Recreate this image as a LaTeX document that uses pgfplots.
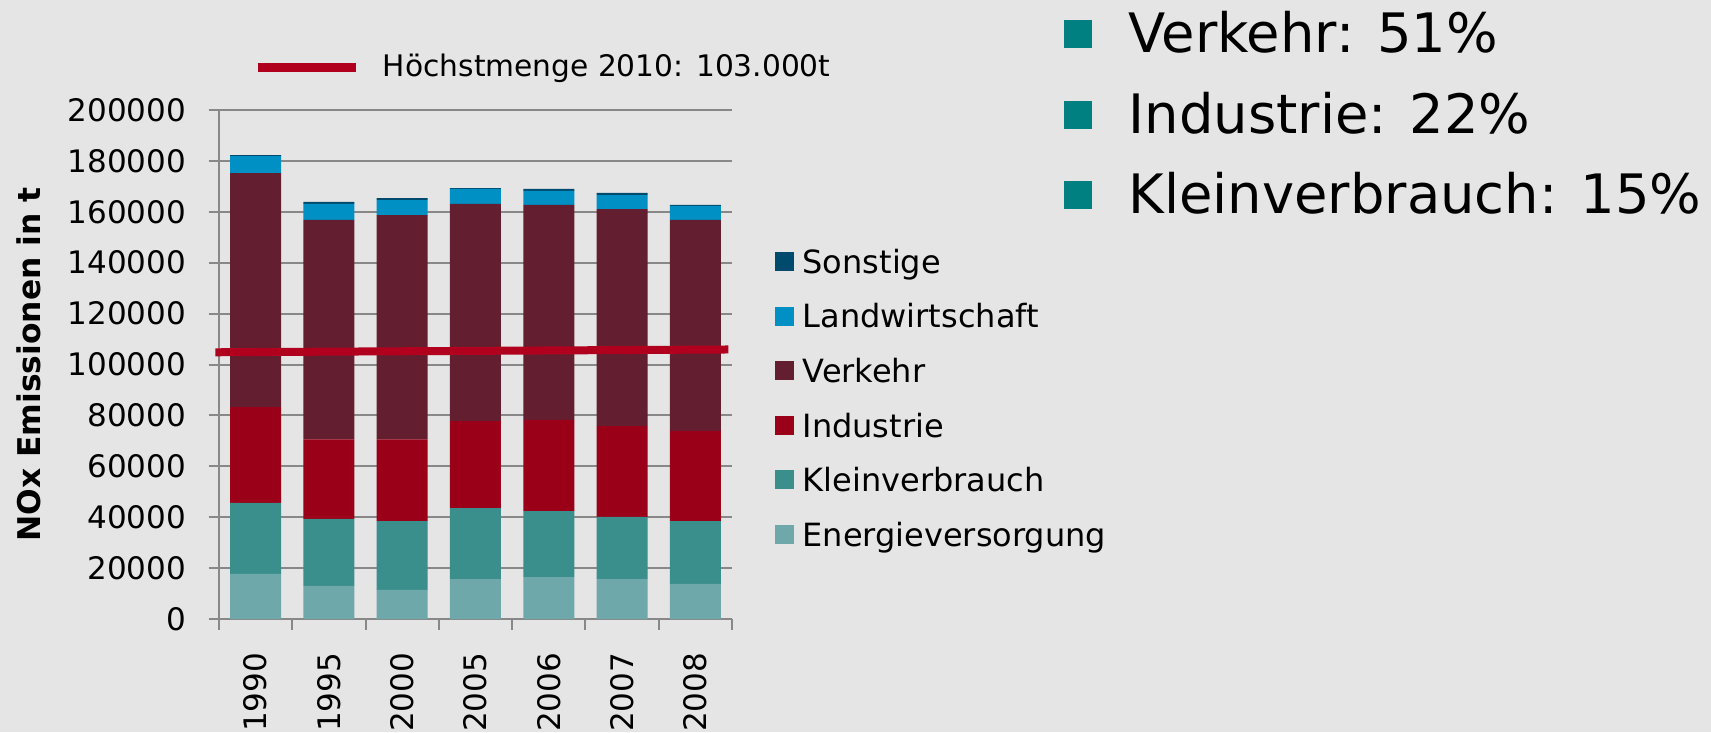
\documentclass[border=0pt]{standalone}
\usepackage{pgfplots}
\pgfplotsset{compat=1.18}
\usepackage{pgfplotstable}
\usepackage{fontspec}
\setmainfont{DejaVu Sans}

\definecolor{bgGray}{HTML}{E5E5E5}
\definecolor{gridGray}{HTML}{888888}
\definecolor{clrSonst}{HTML}{004A6E}
\definecolor{clrLandw}{HTML}{0090C4}
\definecolor{clrVerk}{HTML}{631F30}
\definecolor{clrInd}{HTML}{9B0019}
\definecolor{clrKlein}{HTML}{3A8E8C}
\definecolor{clrEnergie}{HTML}{6FA8AA}
\definecolor{clrLimit}{HTML}{B0001E}
\definecolor{clrBullet}{HTML}{008080}

% NOx emissions in t, per sector
\pgfplotstableread{
idx year energie klein industrie verkehr landw sonst
0 1990 17700 27900 37700 91900 6700 400
1 1995 13000 26300 31300 86200 6300 800
2 2000 11400 27100 32100 88100 5900 800
3 2005 15700 27900 34200 85300 5900 300
4 2006 16500 25900 35800 84500 5500 800
5 2007 15700 24400 35700 85300 5500 800
6 2008 13800 24700 35400 82900 5500 400
}\noxdata

\begin{document}
\begin{tikzpicture}
\fill[bgGray] (-65.7pt,-33.9pt) rectangle (447.6pt,185.7pt);

\begin{axis}[
    at={(0pt,0pt)}, anchor=south west,
    scale only axis,
    width=153.9pt, height=152.7pt,
    ybar stacked, bar width=15.3pt,
    xmin=-0.5, xmax=6.5, ymin=0, ymax=200000,
    xtick={0,...,6},
    xticklabels={1990,1995,2000,2005,2006,2007,2008},
    minor xtick={-0.5,0.5,...,6.5},
    ytick={0,20000,...,200000},
    axis lines*=left,
    axis line style={-, draw=gridGray, line width=0.7pt},
    ymajorgrids,
    grid style={draw=gridGray, line width=0.6pt},
    tick align=outside,
    major tick length=3.1pt, minor tick length=3.3pt,
    tick style={draw=gridGray, line width=0.6pt},
    major x tick style={draw=none},
    scaled y ticks=false,
    yticklabel style={/pgf/number format/fixed, /pgf/number format/1000 sep={},
        inner sep=0pt, xshift=-6.6pt},
    /pgf/number format/assume math mode=true,
    tick label style={font=\fontsize{9.3}{11}\selectfont, text=black},
    xticklabel style={inner sep=0pt, yshift=-6.9pt, rotate=90, anchor=east},
    ylabel={NOx Emissionen in t},
    ylabel style={font=\fontsize{9.4}{11}\selectfont\bfseries,
        at={(axis description cs:-0.3704,0.5)}, anchor=center},
    clip=false,
    legend image code/.code={\fill[#1] (0pt,-1.75pt) rectangle (5.7pt,3.95pt);},
    reverse legend,
    legend cell align=left,
    legend style={draw=none, fill=none, inner sep=0pt, outer sep=0pt,
        at={(axis description cs:1.0838,0.725)}, anchor=north west,
        font=\fontsize{9.6}{11}\selectfont,
        nodes={inner sep=0pt, text height=7pt, text depth=2.2pt},
        row sep=7.17pt, column sep=2.6pt},
]
\addplot[fill=clrEnergie, draw=none] table[x=idx, y=energie] {\noxdata};
\addplot[fill=clrKlein, draw=none] table[x=idx, y=klein] {\noxdata};
\addplot[fill=clrInd, draw=none] table[x=idx, y=industrie] {\noxdata};
\addplot[fill=clrVerk, draw=none] table[x=idx, y=verkehr] {\noxdata};
\addplot[fill=clrLandw, draw=none] table[x=idx, y=landw] {\noxdata};
\addplot[fill=clrSonst, draw=none] table[x=idx, y=sonst] {\noxdata};
\legend{Energieversorgung, Kleinverbrauch, Industrie, Verkehr, Landwirtschaft, Sonstige}
\end{axis}

% limit line, same frame
\begin{axis}[
    at={(0pt,0pt)}, anchor=south west,
    scale only axis,
    width=153.9pt, height=152.7pt,
    xmin=-0.5, xmax=6.5, ymin=0, ymax=200000,
    hide axis, clip=false,
    legend image code/.code={\draw[#1, line width=2.7pt] (0pt,0.2pt) -- (29.25pt,0.2pt);},
    legend style={draw=none, fill=none, inner sep=0pt, outer sep=0pt,
        at={(axis description cs:0.0679,1.0812)}, anchor=west,
        font=\fontsize{8.9}{11}\selectfont,
        nodes={inner sep=0pt, text height=6.8pt, text depth=2pt},
        column sep=6.8pt},
]
\addplot[draw=clrLimit, line width=2.4pt, mark=none] coordinates {(-0.55,104800) (6.45,105900)};
\legend{Höchstmenge 2010: 103.000t}
\end{axis}

% shares on the right
\foreach \yb/\txt in {169.9/{Verkehr: 51\%}, 145.7/{Industrie: 22\%}, 121.6/{Kleinverbrauch: 15\%}} {
    \fill[clrBullet] (253.35pt,\yb pt+1.3pt) rectangle ++(8.4pt,8.4pt);
    \node[anchor=base west, inner sep=0pt, font=\fontsize{16.3}{20}\selectfont] at (272.7pt,\yb pt) {\txt};
}

\pgfresetboundingbox
\path[use as bounding box] (-65.7pt,-33.9pt) rectangle (447.6pt,185.7pt);
\end{tikzpicture}
\end{document}
